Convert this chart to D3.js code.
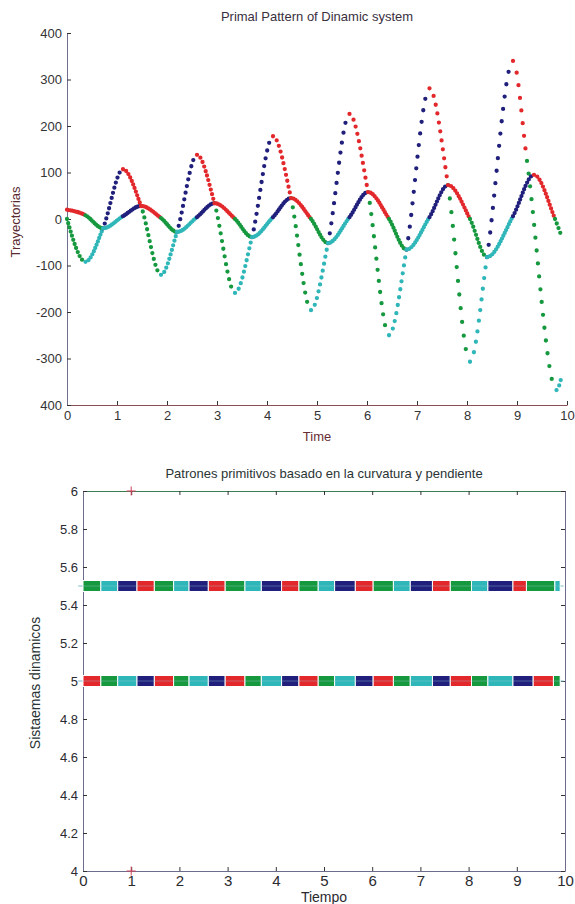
<!DOCTYPE html>
<html>
<head>
<meta charset="utf-8">
<script src="https://cdn.jsdelivr.net/npm/d3@7"></script>
<style>
body { margin: 0; background: #fff; }
svg { display: block; }
text { font-family: "Liberation Sans", Arial, sans-serif; }
</style>
</head>
<body>
<div id="container"></div>
<script>
// pattern change times (extrema and inflections)
var tBig = [0, 0.37, 0.72, 1.12, 1.48, 1.88, 2.2, 2.6, 2.95, 3.36, 3.7, 4.12, 4.48, 4.88, 5.22, 5.65, 6.02, 6.44, 6.79, 7.25, 7.62, 8.06, 8.4, 8.92, 9.2, 9.79, 9.9];
var vBig = [0, -92, -20, 107, 28, -120, -28, 138, 34, -159, -39, 178, 45, -196, -52, 226, 58, -250, -66, 281, 73, -307, -82, 340, 125, -368, -335];
var tSmall = [0, 0.37, 0.72, 1.12, 1.48, 1.88, 2.2, 2.6, 2.95, 3.36, 3.7, 4.12, 4.48, 4.88, 5.22, 5.65, 6.02, 6.44, 6.79, 7.25, 7.62, 8.06, 8.4, 8.92, 9.34, 9.76, 9.9];
var vSmall = [20, 8, -20, 6, 28, 2, -28, 4, 34, 0, -39, 4, 45, 0, -52, 4, 58, 0, -66, 4, 73, 0, -82, 6, 95, 0, -40];
// first pattern of each trajectory (index into patternColours)
var bigStart = 1,
	smallStart = 0;
// 0 falling concave down, 1 falling concave up, 2 rising concave up, 3 rising concave down
var patternColours = ["#e3282c", "#16983f", "#2fb6b9", "#20207c"];

var xTicks = [0, 1, 2, 3, 4, 5, 6, 7, 8, 9, 10];
var xTickLabels = ["0", "1", "2", "3", "4", "5", "6", "7", "8", "9", "10"];
var yTopTicks = [400, 300, 200, 100, 0, -100, -200, -300, -400];
var yTopLabels = ["400", "300", "200", "100", "0", "-100", "-200", "-300", "400"];
var yBotTicks = [4, 4.2, 4.4, 4.6, 4.8, 5, 5.2, 5.4, 5.6, 5.8, 6];
var yBotLabels = ["4", "4.2", "4.4", "4.6", "4.8", "5", "5.2", "5.4", "5.6", "5.8", "6"];
var rowLevels = [5.5, 5];
var markT = [1, 1],
	markY = [6, 4];

var width = 575,
	height = 904,
	dt = 0.033;

var svg = d3.select("#container")
	.append("svg")
		.attr("width", width)
		.attr("height", height);

// ---------- top chart ----------
var xTop = d3.scaleLinear().domain([0, 10]).range([67, 567]);
var yTop = d3.scaleLinear().domain([-400, 400]).range([405, 33]);

var topG = svg.append("g");

function styleAxis(g, lineColour, textColour, size) {
	g.selectAll("path").attr("stroke", lineColour);
	g.selectAll("line").attr("stroke", "#333");
	g.selectAll("text").attr("fill", textColour).style("font-size", size + "px");
}

topG.append("g")
	.attr("transform", "translate(0,405)")
	.call(d3.axisBottom(xTop).tickValues(xTicks)
		.tickFormat(function(d, i){ return xTickLabels[i]; })
		.tickSizeInner(-4).tickSizeOuter(0).tickPadding(6))
	.call(styleAxis, "#8a5058", "#333", 13);

topG.append("g")
	.attr("transform", "translate(67,0)")
	.call(d3.axisLeft(yTop).tickValues(yTopTicks)
		.tickFormat(function(d, i){ return yTopLabels[i]; })
		.tickSizeInner(-4).tickSizeOuter(0).tickPadding(5))
	.call(styleAxis, "#70708e", "#333", 13);

function drawCurve(g, ts, vs, start) {
	var pts = ts.map(function(t, i){ return [t, vs[i]]; });
	var segs = [], last;
	// collect one path per interval from the monotone curve
	var ctx = {
		moveTo: function(x, y){ last = [x, y]; },
		lineTo: function(x, y){ segs.push("M" + last + "L" + x + "," + y); last = [x, y]; },
		bezierCurveTo: function(a, b, c, d, x, y){
			segs.push("M" + last + "C" + a + "," + b + "," + c + "," + d + "," + x + "," + y);
			last = [x, y];
		},
		closePath: function(){}
	};
	d3.line()
		.x(function(d){ return xTop(d[0]); })
		.y(function(d){ return yTop(d[1]); })
		.curve(d3.curveMonotoneX)
		.context(ctx)(pts);
	segs.forEach(function(s, i){
		var p = g.append("path")
			.attr("d", s)
			.attr("fill", "none")
			.attr("stroke", patternColours[(start + i) % 4])
			.attr("stroke-width", 4.3)
			.attr("stroke-linecap", "round");
		var len = p.node().getTotalLength();
		var n = Math.max(1, Math.round((ts[i + 1] - ts[i]) / dt));
		p.attr("stroke-dasharray", "0 " + (len / n));
	});
}

drawCurve(topG, tBig, vBig, bigStart);
drawCurve(topG, tSmall, vSmall, smallStart);

topG.append("text")
	.attr("x", 317).attr("y", 21)
	.attr("text-anchor", "middle")
	.attr("fill", "#3a3040")
	.style("font-size", "13px")
	.text("Primal Pattern of Dinamic system");

topG.append("text")
	.attr("x", 317).attr("y", 441)
	.attr("text-anchor", "middle")
	.attr("fill", "#6a2c34")
	.style("font-size", "13px")
	.text("Time");

topG.append("text")
	.attr("transform", "translate(20,222) rotate(-90)")
	.attr("text-anchor", "middle")
	.attr("fill", "#5a2a30")
	.style("font-size", "13px")
	.text("Trayectorias");

// ---------- bottom chart ----------
var xBot = d3.scaleLinear().domain([0, 10]).range([83, 565]);
var yBot = d3.scaleLinear().domain([4, 6]).range([871, 491]);

var bot = svg.append("g");

bot.append("g")
	.attr("transform", "translate(0,871)")
	.call(d3.axisBottom(xBot).tickValues(xTicks)
		.tickFormat(function(d, i){ return xTickLabels[i]; })
		.tickSizeInner(-4).tickSizeOuter(0).tickPadding(4))
	.call(styleAxis, "#6c6c8c", "#2a2a30", 15);

bot.append("g")
	.attr("transform", "translate(0,491)")
	.call(d3.axisTop(xBot).tickValues(xTicks).tickFormat("")
		.tickSizeInner(-4).tickSizeOuter(0))
	.call(styleAxis, "#3a7d55", "#2a2a30", 13);

bot.append("g")
	.attr("transform", "translate(83,0)")
	.call(d3.axisLeft(yBot).tickValues(yBotTicks)
		.tickFormat(function(d, i){ return yBotLabels[i]; })
		.tickSizeInner(-4).tickSizeOuter(0).tickPadding(5))
	.call(styleAxis, "#6c6c8c", "#2a2a30", 13);

bot.append("g")
	.attr("transform", "translate(565,0)")
	.call(d3.axisRight(yBot).tickValues(yBotTicks).tickFormat("")
		.tickSizeInner(-4).tickSizeOuter(0))
	.call(styleAxis, "#6c6c8c", "#2a2a30", 13);

var rows = [
	{level: rowLevels[0], ts: tBig, start: bigStart},
	{level: rowLevels[1], ts: tSmall, start: smallStart}
];

rows.forEach(function(r){
	var blocks = r.ts.slice(0, -1).map(function(t, i){
		return {t0: t, t1: r.ts[i + 1], c: patternColours[(r.start + i) % 4]};
	});
	bot.append("line")
		.attr("x1", xBot(-0.1)).attr("x2", xBot(9.97))
		.attr("y1", yBot(r.level)).attr("y2", yBot(r.level))
		.attr("stroke", "#7fbcc8").attr("stroke-width", 1);
	bot.selectAll(null)
		.data(blocks)
		.enter().append("rect")
			.attr("x", function(d){ return xBot(d.t0); })
			.attr("width", function(d){ return xBot(d.t1) - xBot(d.t0); })
			.attr("y", yBot(r.level) - 5.5)
			.attr("height", 11)
			.attr("fill", function(d){ return d.c; })
			.attr("stroke", "#fff")
			.attr("stroke-width", 1);
	bot.append("line")
		.attr("x1", xBot(0)).attr("x2", xBot(9.9))
		.attr("y1", yBot(r.level)).attr("y2", yBot(r.level))
		.attr("stroke", "#9fd0d8").attr("stroke-width", 0.8)
		.attr("stroke-opacity", 0.45);
});

bot.selectAll(".mark")
	.data(markT)
	.enter().append("path")
		.attr("class", "mark")
		.attr("d", function(d, i){
			var x = xBot(d), y = yBot(markY[i]);
			return "M" + (x - 4.5) + "," + y + "H" + (x + 4.5) + "M" + x + "," + (y - 4.5) + "V" + (y + 4.5);
		})
		.attr("stroke", "#d0405a")
		.attr("stroke-width", 1);

bot.append("text")
	.attr("x", 324).attr("y", 478)
	.attr("text-anchor", "middle")
	.attr("fill", "#2a3434")
	.style("font-size", "13px")
	.text("Patrones primitivos basado en la curvatura y pendiente");

bot.append("text")
	.attr("x", 324).attr("y", 902)
	.attr("text-anchor", "middle")
	.attr("fill", "#2a2a30")
	.style("font-size", "14px")
	.text("Tiempo");

bot.append("text")
	.attr("transform", "translate(40,683) rotate(-90)")
	.attr("text-anchor", "middle")
	.attr("fill", "#2a3434")
	.style("font-size", "14px")
	.text("Sistaemas dinamicos");
</script>
</body>
</html>
